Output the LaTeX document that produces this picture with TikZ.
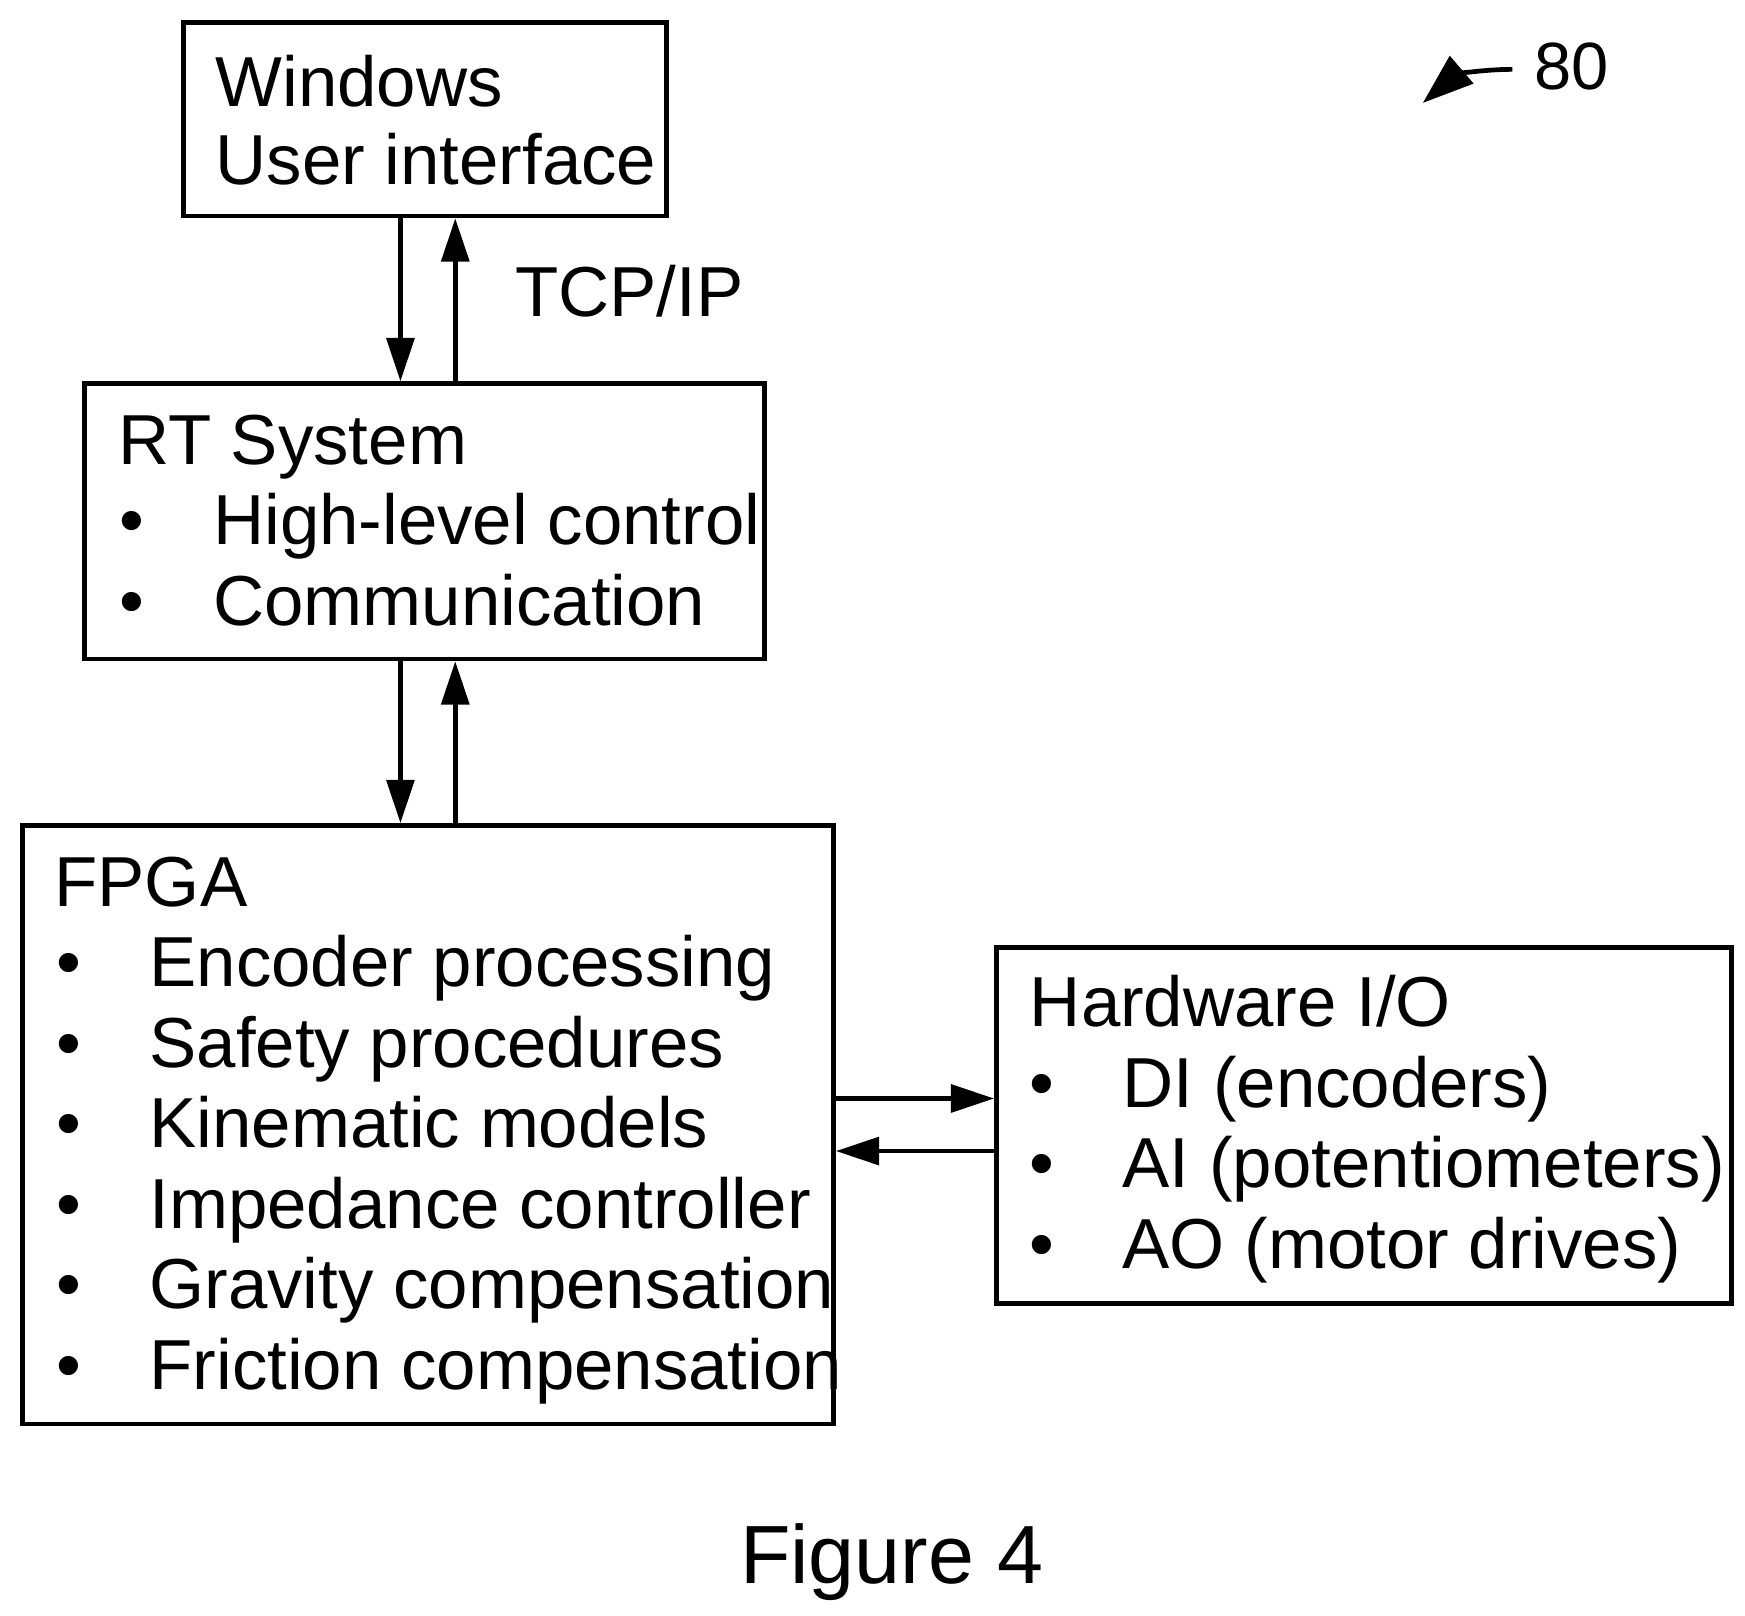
\documentclass[tikz,border=0pt]{standalone}
\usepackage{fontspec}
\setmainfont{Liberation Sans}
\usetikzlibrary{arrows.meta}
\begin{document}
\begin{tikzpicture}[x=0.01cm,y=-0.01cm,
  box/.style={draw,line width=1.2pt,rectangle,inner sep=0pt},
  txt/.style={anchor=base west,inner sep=0pt,font=\fontsize{18}{20}\selectfont},
  arr/.style={line width=1.2pt,-{Triangle[length=11pt,width=7pt]}}]
\useasboundingbox (0,0) rectangle (1560,1444);
\node[box,minimum width=432*0.2845pt,minimum height=173*0.2845pt] (win) at (380,106.5) {};
\node[box,minimum width=607*0.2845pt,minimum height=246*0.2845pt] (rt) at (379.5,466) {};
\node[box,minimum width=725*0.2845pt,minimum height=535*0.2845pt] (fpga) at (382.5,1005.5) {};
\node[box,minimum width=657*0.2845pt,minimum height=318*0.2845pt] (hw) at (1219.5,1006) {};
% texts
\node[txt] (w1) at (192,95) {Windows};
\node[txt] (w2) at (192,165) {User interface};
\node[txt] (tcp) at (460,283) {TCP/IP};
\node[txt] (r0) at (105,415) {RT System};
\foreach \y/\t [count=\i] in {487/High-level control,559/Communication}{
  \node[txt] (rb\i) at (106,\y) {•};
  \node[txt] (r\i) at (190,\y) {\t};}
\node[txt] (f0) at (48,810) {FPGA};
\foreach \y/\t [count=\i] in {882/Encoder processing,954/Safety procedures,1026/Kinematic models,1098/Impedance controller,1170/Gravity compensation,1242/Friction compensation}{
  \node[txt] (fb\i) at (50,\y) {•};
  \node[txt] (f\i) at (133,\y) {\t};}
\node[txt] (h0) at (920,918) {Hardware I/O};
\foreach \y/\t [count=\i] in {990/DI (encoders),1062/AI (potentiometers),1134/AO (motor drives)}{
  \node[txt] (hb\i) at (920,\y) {•};
  \node[txt] (h\i) at (1003,\y) {\t};}
\node[txt,font=\fontsize{21}{24}\selectfont] (fig) at (661,1416) {Figure 4};
\node[txt,font=\fontsize{17}{20}\selectfont] (n80) at (1371,80) {80};
% arrows
\draw[arr] (win.south -| 358,0) -- (rt.north -| 358,0);
\draw[arr] (rt.north -| 407,0) -- (win.south -| 407,0);
\draw[arr] (rt.south -| 358,0) -- (fpga.north -| 358,0);
\draw[arr] (fpga.north -| 407,0) -- (rt.south -| 407,0);
\draw[arr] (fpga.east |- 0,982) -- (hw.west |- 0,982);
\draw[arr] (hw.west |- 0,1029) -- (fpga.east |- 0,1029);
\coordinate (c80) at (1352,62);
\draw[line width=1.2pt,-{Triangle[length=13pt,width=9pt]}] (c80) .. controls (1320,62) and (1300,68) .. (1272,92);
\end{tikzpicture}
\end{document}
